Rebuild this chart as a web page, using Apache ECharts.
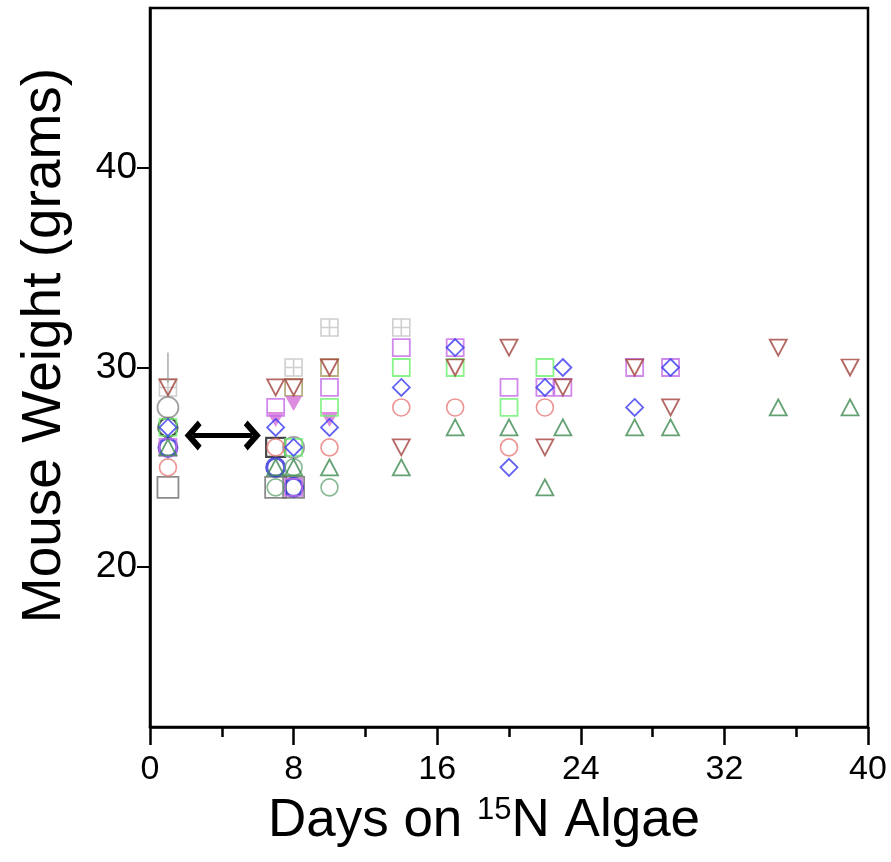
<!DOCTYPE html>
<html>
<head>
<meta charset="utf-8">
<script src="https://cdn.jsdelivr.net/npm/echarts@6/dist/echarts.min.js"></script>
<style>
  html, body { margin: 0; padding: 0; background: #fff; }
  #chart { width: 891px; height: 862px; }
</style>
</head>
<body>
<div id="chart"></div>
<script>
// [day, weight in grams], one array per marker style
var graySquare = [[1, 24], [7, 24], [8, 24]]
var grayPlusSquare = [[1, 29], [8, 30], [10, 32], [14, 32]]
var oliveSquare = [[8, 29], [10, 30]]
var magentaTri = [[7, 27.4], [8, 28.2], [10, 27.4]]
var blackSquare = [[7, 26]]
var blackCircle = [[1, 27]]
var blueCircle = [[1, 26], [7, 25], [8, 24]]
var grayCircle = [[1, 28], [8, 26]]
var greenSquare = [[1, 27], [8, 26], [10, 28], [14, 30], [17, 30], [20, 28], [22, 30]]
var purpleSquare = [[1, 26], [7, 28], [8, 24], [10, 29], [14, 31], [17, 31], [20, 29], [22, 29], [23, 29], [27, 30], [29, 30]]
var greenDotCircle = [[7, 24], [8, 25], [10, 24]]
var greenTri = [[1, 26], [7, 25], [8, 25], [10, 25], [14, 25], [17, 27], [20, 27], [22, 24], [23, 27], [27, 27], [29, 27], [35, 28], [39, 28]]
var redCircle = [[1, 25], [7, 26], [10, 26], [14, 28], [17, 28], [20, 26], [22, 28]]
var blueDiamond = [[1, 27], [7, 27], [8, 26], [10, 27], [14, 29], [17, 31], [20, 25], [22, 29], [23, 30], [27, 28], [29, 30]]
var brownTri = [[1, 29], [7, 29], [8, 29], [10, 30], [14, 26], [17, 30], [20, 31], [22, 26], [23, 29], [27, 30], [29, 28], [35, 31], [39, 30]]
var grayLine = [[1, 30]]
var arrowFrom = [2.4, 26.6]
var arrowTo = [5.7, 26.6]

var xTicks = [0, 8, 16, 24, 32, 40]
var yTicks = [20, 30, 40]

var plusSquare = 'path://M0,0H10V10H0Z M5,0V10 M0,5H10'
var chevron = 'path://M0,14 L14,0 L28,14 L23.5,18 L14,8.5 L4.5,18 Z'

function open(name, data, symbol, color, size, width, rotate) {
  return {
    name: name,
    type: 'scatter',
    data: data,
    symbol: symbol,
    symbolSize: size,
    symbolRotate: rotate || 0,
    itemStyle: {
      color: 'rgba(0,0,0,0)',
      borderColor: color,
      borderWidth: width || 1.8
    },
    emphasis: { disabled: true }
  }
}

var chart = echarts.init(document.getElementById('chart'))

var series = [
  open('graySquare', graySquare, 'rect', '#6e6e6e', 21, 1.8),
  open('grayPlusSquare', grayPlusSquare, plusSquare, '#c2c2c2', 17, 1.6),
  open('oliveSquare', oliveSquare, 'rect', '#a89a64', 17, 1.8),
  {
    name: 'magentaTri',
    type: 'scatter',
    data: magentaTri,
    symbol: 'triangle',
    symbolRotate: 180,
    symbolSize: [17, 15],
    itemStyle: { color: '#d46ed6' },
    emphasis: { disabled: true }
  },
  open('blackSquare', blackSquare, 'rect', '#1a1a1a', 19, 2.2),
  open('blackCircle', blackCircle, 'circle', '#1a1a1a', 19, 2.2),
  open('blueCircle', blueCircle, 'circle', '#2a2ad8', 18, 3),
  open('grayCircle', grayCircle, 'circle', '#8a8a8a', 21, 1.8),
  open('greenSquare', greenSquare, 'rect', '#6ef06e', 17, 1.8),
  open('purpleSquare', purpleSquare, 'rect', '#c46ae6', 17, 1.8),
  open('greenDotCircle', greenDotCircle, 'circle', '#6aa878', 17, 1.6),
  open('greenTri', greenTri, 'triangle', '#3d8a4f', [17, 16], 1.8),
  open('redCircle', redCircle, 'circle', '#e87a78', 17, 1.6),
  open('blueDiamond', blueDiamond, 'diamond', '#3a3af0', [17, 17], 1.8),
  open('brownTri', brownTri, 'triangle', '#a0423c', [17, 16], 1.8, 180),
  {
    name: 'grayLine',
    type: 'scatter',
    data: grayLine,
    symbol: 'rect',
    symbolSize: [1.6, 30],
    itemStyle: { color: '#9a9a9a' },
    emphasis: { disabled: true },
    markLine: {
      silent: true,
      symbol: [chevron, chevron],
      symbolSize: [30, 17],
      label: { show: false },
      lineStyle: { color: '#000', width: 5, type: 'solid' },
      data: [[{ coord: arrowFrom }, { coord: arrowTo }]]
    }
  }
]

chart.setOption({
  animation: false,
  grid: {
    left: 150,
    right: 23,
    top: 8,
    bottom: 135,
    outerBoundsMode: 'none',
    containLabel: false,
    show: true,
    borderColor: '#000',
    borderWidth: 2.5,
    backgroundColor: '#fff'
  },
  xAxis: {
    type: 'value',
    min: 0,
    max: 40,
    interval: 8,
    name: 'Days on {sup|15}N Algae',
    nameLocation: 'middle',
    nameGap: 68,
    nameTextStyle: {
      fontFamily: 'Liberation Sans, Arial, sans-serif',
      fontSize: 53,
      color: '#000',
      padding: [0, 50, 0, 0],
      rich: {
        sup: {
          fontFamily: 'Liberation Sans, Arial, sans-serif',
          fontSize: 31,
          color: '#000',
          padding: [0, 0, 22, 0]
        }
      }
    },
    axisLine: { lineStyle: { color: '#000', width: 2.5 } },
    axisTick: { inside: false, length: 18, lineStyle: { color: '#000', width: 2.5 } },
    minorTick: { show: true, splitNumber: 2, length: 10, lineStyle: { color: '#000', width: 2.5 } },
    axisLabel: {
      margin: 26,
      color: '#000',
      fontSize: 34,
      fontFamily: 'Liberation Sans Narrow, Liberation Sans, Arial, sans-serif',
      customValues: xTicks
    },
    splitLine: { show: false },
    minorSplitLine: { show: false }
  },
  yAxis: {
    type: 'value',
    min: 12,
    max: 48,
    name: 'Mouse Weight (grams)',
    nameLocation: 'middle',
    nameGap: 78,
    nameTextStyle: {
      fontFamily: 'Liberation Sans, Arial, sans-serif',
      fontSize: 55,
      color: '#000',
      padding: [0, 0, 0, 44]
    },
    axisLine: { show: true, lineStyle: { color: '#000', width: 2.5 } },
    axisTick: { show: true, inside: false, length: 13, customValues: yTicks, lineStyle: { color: '#000', width: 2 } },
    axisLabel: {
      margin: 13,
      color: '#000',
      fontSize: 37,
      fontFamily: 'Liberation Sans, Arial, sans-serif',
      customValues: yTicks
    },
    splitLine: { show: false }
  },
  series: series
})
</script>
</body>
</html>
